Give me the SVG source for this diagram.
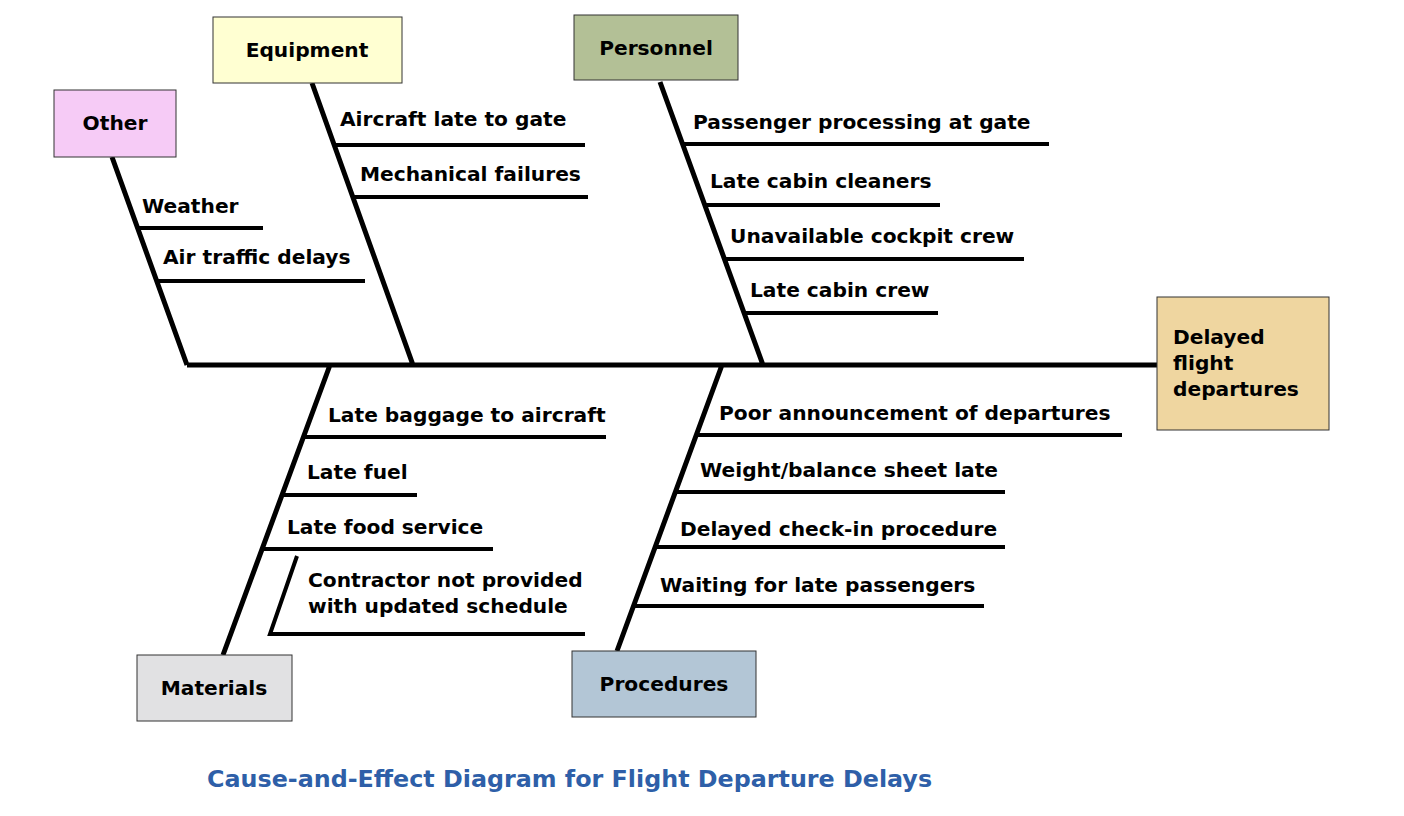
<svg xmlns="http://www.w3.org/2000/svg" width="1404" height="816" viewBox="0 0 1404 816">
<style>
.b{stroke:#000;stroke-width:5;fill:none;stroke-linecap:butt}
.s{stroke:#000;stroke-width:4;fill:none}
.box{stroke:#333;stroke-width:1}
text{font-family:"DejaVu Sans","Liberation Sans",sans-serif;font-weight:bold;font-size:20.2px;fill:#000}
</style>
<rect width="1404" height="816" fill="#fff"/>
<g id="connectors">
<path class="b" d="M187 365H1157M112 157L187 365M312 83L413 365M660 82L763 365M223 655L330 365M617 651L722 365"/>
<path class="s" d="M138 228H263M157 281H365M334 145H585M353 197H588M683 144H1049M705 205H940M724 259H1024M744 313H938M303 437H606M282 495H417M262 549H493M297 556L270 634H585M696 435H1122M675 492H1005M655 547H1005M634 606H984"/>
</g>
<g id="other"><rect class="box" x="54" y="90" width="122" height="67" fill="#f6cbf6"/><text x="115" y="130" text-anchor="middle">Other</text></g>
<g id="equipment"><rect class="box" x="213" y="17" width="189" height="66" fill="#ffffd2"/><text x="307" y="57" text-anchor="middle">Equipment</text></g>
<g id="personnel"><rect class="box" x="574" y="15" width="164" height="65" fill="#b3c096"/><text x="656" y="55" text-anchor="middle">Personnel</text></g>
<g id="effect"><rect class="box" x="1157" y="297" width="172" height="133" fill="#efd6a0"/><text x="1173" y="344">Delayed</text><text x="1173" y="370">flight</text><text x="1173" y="396">departures</text></g>
<g id="materials"><rect class="box" x="137" y="655" width="155" height="66" fill="#e1e1e3"/><text x="214" y="695" text-anchor="middle">Materials</text></g>
<g id="procedures"><rect class="box" x="572" y="651" width="184" height="66" fill="#b3c6d6"/><text x="664" y="691" text-anchor="middle">Procedures</text></g>
<g id="labels">
<text x="142" y="213">Weather</text>
<text x="163" y="264">Air traffic delays</text>
<text x="340" y="126">Aircraft late to gate</text>
<text x="360" y="181">Mechanical failures</text>
<text x="693" y="129">Passenger processing at gate</text>
<text x="710" y="188">Late cabin cleaners</text>
<text x="730" y="243">Unavailable cockpit crew</text>
<text x="750" y="297">Late cabin crew</text>
<text x="328" y="422">Late baggage to aircraft</text>
<text x="307" y="479">Late fuel</text>
<text x="287" y="534">Late food service</text>
<text x="308" y="587">Contractor not provided</text>
<text x="308" y="613">with updated schedule</text>
<text x="719" y="420">Poor announcement of departures</text>
<text x="700" y="477">Weight/balance sheet late</text>
<text x="680" y="536">Delayed check-in procedure</text>
<text x="660" y="592">Waiting for late passengers</text>
</g>
<text x="207" y="787" style="font-size:23.8px;fill:#2e5fa8">Cause-and-Effect Diagram for Flight Departure Delays</text>
</svg>
